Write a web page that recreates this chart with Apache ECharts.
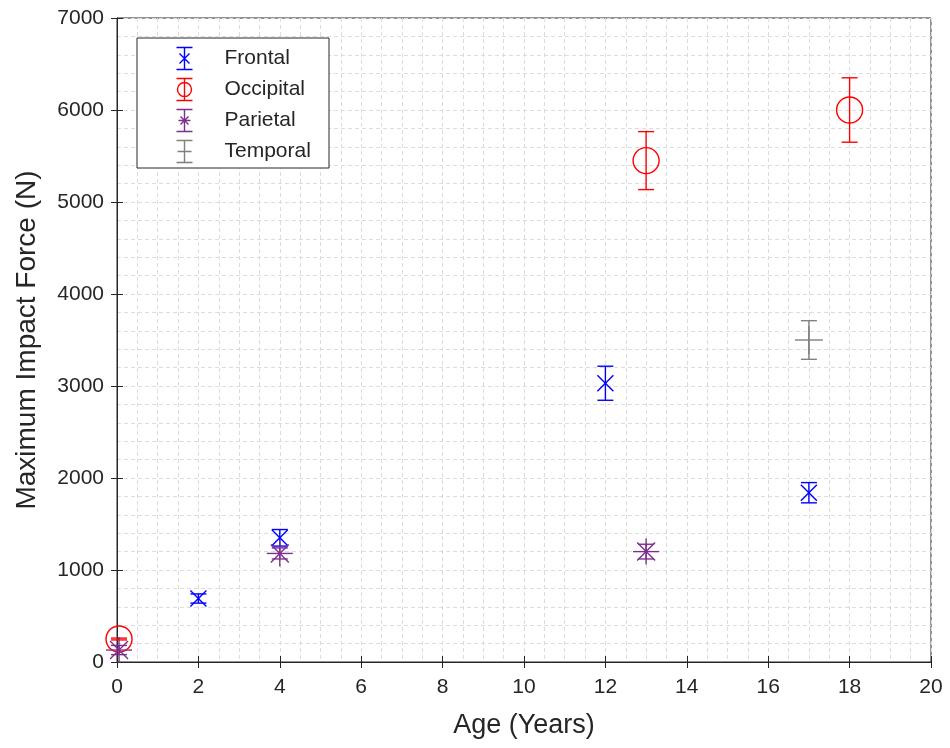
<!DOCTYPE html>
<html>
<head>
<meta charset="utf-8" />
<title>Maximum Impact Force</title>
<script src="https://cdn.jsdelivr.net/npm/echarts@6/dist/echarts.min.js"></script>
</head>
<body style="margin:0;">
<div id="main" style="width:950px;height:748px;"></div>
<script>
// data (age in years, force in N, +/- error)
var frontalAge = [2, 4, 12, 17];
var frontalForce = [690, 1350, 3030, 1840];
var frontalErr = [50, 90, 185, 110];

var occipitalAge = [0.05, 13, 18];
var occipitalForce = [250, 5450, 6000];
var occipitalErr = [10, 315, 350];

var parietalAge = [0.05, 4, 13];
var parietalForce = [130, 1180, 1200];
var parietalErr = [50, 60, 80];

var temporalAge = [17];
var temporalForce = [3500];
var temporalErr = [210];

var names = ['Frontal', 'Occipital', 'Parietal', 'Temporal'];
var colors = ['#0000ff', '#ff0000', '#7e2f8e', '#808080'];

var FONT = 'Liberation Sans, Arial, sans-serif';
var TXT = '#262626';
var GRIDC = '#dcdcdc';

function rows(ages, vals, errs) {
  return ages.map(function (a, i) { return [a, vals[i], errs[i]]; });
}

function seg(x1, y1, x2, y2) {
  return { type: 'line', shape: { x1: x1, y1: y1, x2: x2, y2: y2 } };
}

// marker shapes drawn around point c
var markers = {
  x: function (c) {
    var s = 8;
    return [seg(c[0] - s, c[1] - s, c[0] + s, c[1] + s), seg(c[0] - s, c[1] + s, c[0] + s, c[1] - s)];
  },
  o: function (c) {
    return [{ type: 'circle', shape: { cx: c[0], cy: c[1], r: 13 } }];
  },
  star: function (c) {
    var s = 13, d = 9;
    return [seg(c[0] - s, c[1], c[0] + s, c[1]), seg(c[0], c[1] - s, c[0], c[1] + s),
            seg(c[0] - d, c[1] - d, c[0] + d, c[1] + d), seg(c[0] - d, c[1] + d, c[0] + d, c[1] - d)];
  },
  plus: function (c) {
    var s = 14;
    return [seg(c[0] - s, c[1], c[0] + s, c[1]), seg(c[0], c[1] - s, c[0], c[1] + s)];
  }
};

function errRender(markerFn, color) {
  return function (params, api) {
    var x = api.value(0), y = api.value(1), e = api.value(2);
    var c = api.coord([x, y]);
    var t = api.coord([x, y + e]);
    var b = api.coord([x, y - e]);
    var w = 8;
    var kids = [seg(t[0], t[1], b[0], b[1]), seg(t[0] - w, t[1], t[0] + w, t[1]), seg(b[0] - w, b[1], b[0] + w, b[1])]
      .concat(markerFn(c));
    kids.forEach(function (k) {
      k.style = { stroke: color, fill: 'none', lineWidth: 1.4 };
    });
    return { type: 'group', children: kids };
  };
}

var seriesData = [
  rows(frontalAge, frontalForce, frontalErr),
  rows(occipitalAge, occipitalForce, occipitalErr),
  rows(parietalAge, parietalForce, parietalErr),
  rows(temporalAge, temporalForce, temporalErr)
];
var markerKeys = ['x', 'o', 'star', 'plus'];

// legend icons: error bar + marker
var bar = 'M0 0L16 0M0 22L16 22M8 0L8 22';
var icons = [
  bar + 'M3 6L13 16M13 6L3 16',
  bar + 'M1 11A7 7 0 1 0 15 11A7 7 0 1 0 1 11',
  bar + 'M2 11L14 11M4 7L12 15M12 7L4 15',
  bar + 'M1 11L15 11'
];

var series = names.map(function (n, i) {
  return {
    name: n,
    type: 'custom',
    itemStyle: { color: colors[i] },
    renderItem: errRender(markers[markerKeys[i]], colors[i]),
    data: seriesData[i],
    encode: { x: 0, y: 1 },
    clip: false,
    z: 3 + i
  };
});

var myChart = echarts.init(document.getElementById('main'));
var option = {
  animation: false,
  backgroundColor: '#ffffff',
  textStyle: { fontFamily: FONT },
  grid: {
    left: 117, right: 19, top: 18, bottom: 86,
    show: true, borderColor: TXT, borderWidth: 1
  },
  xAxis: [{
    type: 'value', min: 0, max: 20, interval: 2,
    name: 'Age (Years)', nameLocation: 'middle', nameGap: 50,
    nameTextStyle: { fontSize: 27, color: TXT, fontFamily: FONT },
    axisLine: { lineStyle: { color: TXT, width: 1 } },
    axisTick: { inside: true, length: 6, lineStyle: { color: TXT } },
    axisLabel: { fontSize: 21, color: TXT, margin: 15, fontFamily: FONT },
    minorTick: { show: false, splitNumber: 4 },
    splitLine: { show: true, lineStyle: { color: GRIDC, type: [4, 3] } },
    minorSplitLine: { show: true, lineStyle: { color: GRIDC, type: [4, 3] } }
  }, {
    type: 'value', min: 0, max: 20, interval: 2, position: 'top',
    axisLine: { show: false },
    axisTick: { inside: true, length: 6, lineStyle: { color: TXT } },
    axisLabel: { show: false }, splitLine: { show: false }
  }],
  yAxis: [{
    type: 'value', min: 0, max: 7000, interval: 1000,
    name: 'Maximum Impact Force (N)', nameLocation: 'middle', nameGap: 76,
    nameTextStyle: { fontSize: 28, color: TXT, fontFamily: FONT },
    axisLine: { show: true, lineStyle: { color: TXT, width: 1 } },
    axisTick: { show: true, inside: true, length: 6, lineStyle: { color: TXT } },
    axisLabel: { fontSize: 21, color: TXT, margin: 13, fontFamily: FONT,
      formatter: function (v) { return String(v); } },
    minorTick: { show: false, splitNumber: 5 },
    splitLine: { show: true, lineStyle: { color: GRIDC, type: [4, 3] } },
    minorSplitLine: { show: true, lineStyle: { color: GRIDC, type: [4, 3] } }
  }, {
    type: 'value', min: 0, max: 7000, interval: 1000, position: 'right',
    axisLine: { show: false },
    axisTick: { show: true, inside: true, length: 6, lineStyle: { color: TXT } },
    axisLabel: { show: false }, splitLine: { show: false }
  }],
  legend: {
    orient: 'vertical',
    left: 174, top: 45,
    padding: 0,
    itemWidth: 16, itemHeight: 22, itemGap: 4,
    selectedMode: false,
    textStyle: { fontSize: 21, color: TXT, fontFamily: FONT, padding: [0, 0, 0, 27] },
    data: names.map(function (n, i) {
      return {
        name: n,
        icon: 'path://' + icons[i],
        itemStyle: { color: 'none', borderColor: colors[i], borderWidth: 1.4 }
      };
    })
  },
  graphic: [{
    type: 'rect',
    shape: { x: 137, y: 38, width: 192, height: 130 },
    style: { fill: '#ffffff', stroke: TXT, lineWidth: 1 },
    z: 1
  }],
  series: series
};
myChart.setOption(option);
</script>
</body>
</html>
